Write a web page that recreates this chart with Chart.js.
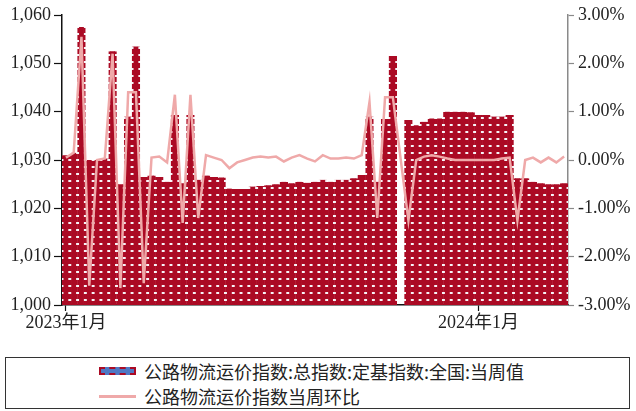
<!DOCTYPE html>
<html>
<head>
<meta charset="utf-8">
<script src="https://cdn.jsdelivr.net/npm/chart.js@4.4.1/dist/chart.umd.min.js"></script>
<style>
  html, body { margin: 0; padding: 0; background: #ffffff; }
  #wrap { position: relative; width: 636px; height: 411px; overflow: hidden; }
  #c { position: absolute; left: 0; top: 0; }
  #legend {
    position: absolute; left: 5px; top: 357px; width: 623px; height: 50px;
    border: 1.5px solid #333; box-sizing: content-box;
    font-family: "Noto Sans CJK SC", sans-serif; font-size: 18px; color: #222;
  }
  .row { position: absolute; left: 93px; height: 20px; display: flex; align-items: center; white-space: nowrap; }
  .sw-bar { width: 37px; height: 8px; background: #4f78c4; border: 2.5px dashed #ab0a24; box-sizing: border-box; margin-right: 8px; }
  .sw-line { width: 37px; height: 3px; background: #efa9a9; margin-right: 8px; }
</style>
</head>
<body>
<div id="wrap">
  <canvas id="c" width="636" height="352"></canvas>
  <div id="legend">
    <div class="row" style="top:3px"><span class="sw-bar"></span><span id="lg0"></span></div>
    <div class="row" style="top:28px"><span class="sw-line"></span><span id="lg1"></span></div>
  </div>
</div>
<script>
// ---- data ----
const seriesNames = ['公路物流运价指数:总指数:定基指数:全国:当周值', '公路物流运价指数当周环比'];

// weekly index values (left axis)
const indexValues = [
  1031.0, 1031.5, 1057.5, 1030.0, 1030.0, 1030.3, 1052.5, 1025.0, 1039.0, 1053.5,
  1026.5, 1026.8, 1026.5, 1025.5, 1039.3, 1025.2, 1039.3, 1025.9, 1026.8, 1026.5,
  1026.4, 1024.1, 1024.0, 1024.0, 1024.5, 1024.6, 1024.8, 1025.0, 1025.5, 1025.2,
  1025.5, 1025.3, 1025.5, 1025.9, 1025.5, 1025.9, 1025.9, 1026.2, 1026.9, 1039.0,
  1025.5, 1038.5, 1051.5, null,   1038.3, 1037.2, 1037.9, 1038.6, 1038.6, 1040.0,
  1040.0, 1040.0, 1039.9, 1039.3, 1039.3, 1039.0, 1039.0, 1039.3, 1026.2, 1026.2,
  1025.5, 1025.2, 1025.0, 1025.0, 1025.2
];

// week-on-week change in % (right axis)
const wowValues = [
  0.05, 0.15, 2.55, -2.60, 0.00, 0.03, 2.20, -2.65, 1.40, 1.40,
  -2.55, 0.05, 0.07, -0.05, 1.35, -1.30, 1.35, -1.20, 0.10, 0.05,
  0.00, -0.17, -0.05, 0.00, 0.05, 0.07, 0.05, 0.07, -0.03, 0.05,
  0.10, 0.03, -0.03, 0.10, 0.03, 0.03, 0.05, 0.03, 0.10, 1.20,
  -1.20, 1.30, 1.30, null, -1.25, 0.00, 0.07, 0.10, 0.07, 0.03,
  0.00, 0.00, 0.00, 0.00, 0.00, 0.00, 0.03, 0.05, -1.25, 0.00,
  0.05, -0.05, 0.05, -0.05, 0.07
];

// category positions (one per week)
const categories = indexValues.map((_, i) => i);

// tick labels
const xTickText = ['2023年1月', '2024年1月'];
const xTickAt = [0, 53];
const leftTickLabels = ['1,000', '1,010', '1,020', '1,030', '1,040', '1,050', '1,060'];
const rightTickLabels = ['-3.00%', '-2.00%', '-1.00%', '0.00%', '1.00%', '2.00%', '3.00%'];

// ---- styling ----
const RED = '#ab0a24';
const PINK = '#efa9a9';

document.getElementById('lg0').textContent = seriesNames[0];
document.getElementById('lg1').textContent = seriesNames[1];

const canvas = document.getElementById('c');
const ctx = canvas.getContext('2d');

// dashed-border look: red dash, light gap, repeating vertically
const tile = document.createElement('canvas');
tile.width = 1; tile.height = 7;
const tg = tile.getContext('2d');
tg.fillStyle = RED; tg.fillRect(0, 0, 1, 5);
tg.fillStyle = '#f6f4f8'; tg.fillRect(0, 5, 1, 2);
const dashPattern = ctx.createPattern(tile, 'repeat');

const serif = '"Liberation Serif", "Noto Sans CJK SC", serif';

new Chart(ctx, {
  data: {
    labels: categories,
    datasets: [
      {
        type: 'line',
        label: seriesNames[1],
        data: wowValues,
        yAxisID: 'y1',
        borderColor: PINK,
        backgroundColor: PINK,
        borderWidth: 2.5,
        pointRadius: 0,
        tension: 0,
        spanGaps: true,
        order: 0
      },
      {
        type: 'bar',
        label: seriesNames[0],
        data: indexValues,
        yAxisID: 'y',
        backgroundColor: RED,
        borderColor: dashPattern,
        borderWidth: { top: 0, right: 1.8, bottom: 0, left: 1.8 },
        barPercentage: 1.0,
        categoryPercentage: 1.0,
        order: 1
      }
    ]
  },
  options: {
    responsive: false,
    animation: false,
    events: [],
    layout: { padding: { top: 15, left: 0, right: 0, bottom: 0 } },
    plugins: {
      legend: { display: false },
      tooltip: { enabled: false }
    },
    scales: {
      x: {
        type: 'category',
        offset: true,
        afterFit: (s) => { s.height = 47; },
        border: { display: true, color: '#111', width: 1.5 },
        grid: {
          offset: false,
          drawOnChartArea: false,
          drawTicks: true,
          tickLength: 6,
          tickWidth: 1.2,
          tickColor: (c) => (xTickAt.includes(c.index) ? '#111' : 'rgba(0,0,0,0)')
        },
        ticks: {
          autoSkip: false,
          maxRotation: 0,
          minRotation: 0,
          padding: 1,
          color: '#222',
          font: { family: serif, size: 18 },
          callback: (v, i) => { const k = xTickAt.indexOf(i); return k >= 0 ? xTickText[k] : ''; }
        }
      },
      y: {
        position: 'left',
        min: 1000,
        max: 1060,
        afterFit: (s) => { s.width = 62; },
        border: { display: true, color: '#111', width: 1.5 },
        grid: {
          drawOnChartArea: false,
          drawTicks: true,
          tickLength: 8,
          tickColor: '#111',
          tickWidth: 1.2
        },
        ticks: {
          stepSize: 10,
          padding: 3,
          color: '#222',
          font: { family: serif, size: 18 },
          callback: (v, i) => leftTickLabels[i]
        }
      },
      y1: {
        position: 'right',
        min: -3,
        max: 3,
        afterFit: (s) => { s.width = 68; },
        border: { display: true, color: '#8a8a8a', width: 1.5 },
        grid: {
          drawOnChartArea: false,
          drawTicks: true,
          tickLength: 6,
          tickColor: '#8a8a8a',
          tickWidth: 1.2
        },
        ticks: {
          stepSize: 1,
          padding: 4,
          color: '#222',
          font: { family: serif, size: 18 },
          callback: (v, i) => rightTickLabels[i]
        }
      }
    }
  }
});
</script>
</body>
</html>
